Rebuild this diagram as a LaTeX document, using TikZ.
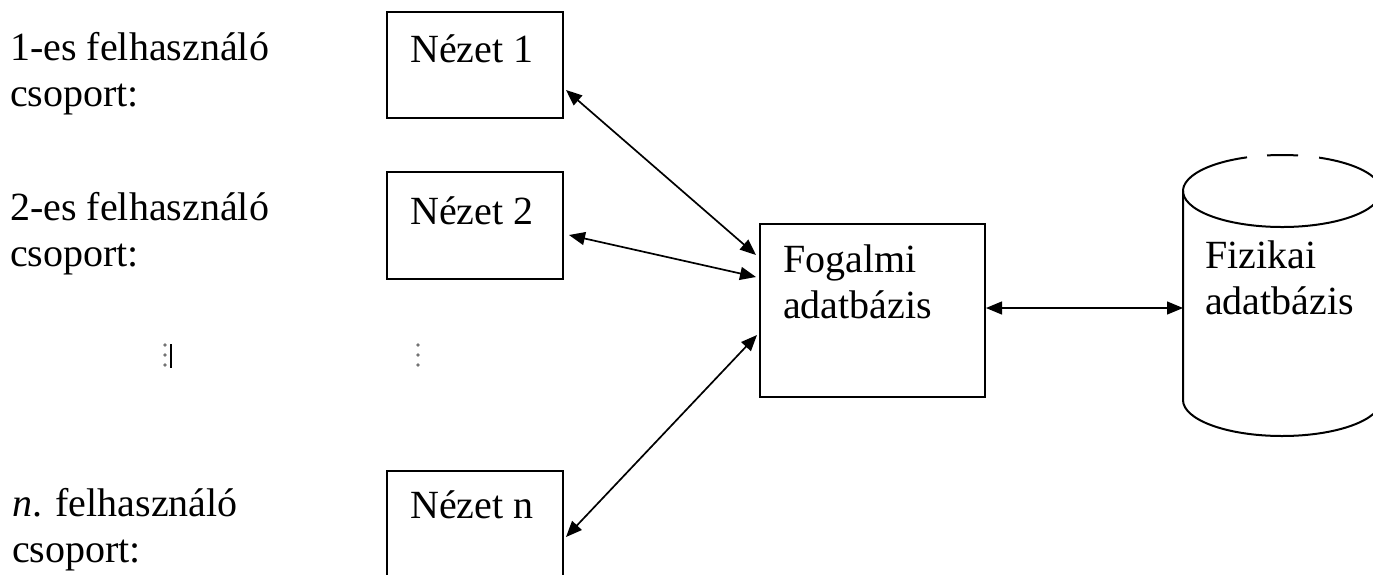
\documentclass[tikz,border=0pt]{standalone}
\usepackage{fontspec}
\setmainfont{Liberation Serif}
\usetikzlibrary{arrows.meta}
\begin{document}
\begin{tikzpicture}[x=1pt,y=1pt,
  every node/.style={font=\fontsize{40}{46}\selectfont},
  boxnode/.style={draw,line width=2pt,minimum width=176pt,minimum height=106pt,inner sep=0pt},
  lbl/.style={anchor=base west,inner sep=0pt,align=left},
  conn/.style={line width=1.7pt,{Triangle[length=16pt,width=13pt]}-{Triangle[length=16pt,width=13pt]}},
  vdot/.style={fill=black!55,draw=none}]
\useasboundingbox (0,0) rectangle (1373,-574);
\clip (0,0) rectangle (1373,-574);
% left labels (anchor at baseline of the last line)
\node[lbl] (g1) at (10,-106) {1-es felhasználó\\csoport:};
\node[lbl] (g2) at (10,-266) {2-es felhasználó\\csoport:};
\node[lbl] (gn) at (12,-562) {\textit{n}. felhasználó\\csoport:};
% view boxes
\node[boxnode] (n1) at (475,-65) {};
\node[boxnode,minimum height=107pt] (n2) at (475,-225.5) {};
\node[boxnode] (nn) at (475,-524) {};
\node[lbl] (t1) at (410,-62) {Nézet 1};
\node[lbl] (t2) at (410,-224) {Nézet 2};
\node[lbl] (tn) at (410,-518) {Nézet n};
% conceptual box
\node[draw,line width=2pt,minimum width=225pt,minimum height=173pt,inner sep=0pt] (fog) at (872.5,-310.5) {};
\node[lbl] (tf) at (783,-318) {Fogalmi\\adatbázis};
% cylinder
\draw[line width=2pt] (1183,-191) -- (1183,-400)
  arc[start angle=180,end angle=360,x radius=99,y radius=36] -- (1381,-191);
\draw[line width=2pt] (1282,-191) ++(110.7:99 and 36) arc[start angle=110.7,end angle=428,x radius=99,y radius=36];
\draw[line width=2pt] (1282,-191) ++(98.7:99 and 36) arc[start angle=98.7,end angle=80.7,x radius=99,y radius=36];
\coordinate (cyl) at (1183,-308);
\node[lbl] (tz) at (1205,-314) {Fizikai\\adatbázis};
% connectors
\draw[conn] ([shift={(2,-25)}]n1.east) -- ([shift={(-3,55.5)}]fog.west);
\draw[conn] ([shift={(5,-9.5)}]n2.east) -- ([shift={(-3,33.5)}]fog.west);
\draw[conn] ([shift={(2,-13)}]nn.east) -- ([shift={(-2,-24.5)}]fog.west);
\draw[conn,line width=1.3pt] ([yshift=2.5pt]fog.east) -- (cyl);
% vertical dots
\foreach \x in {165,418}{
  \foreach \y in {345,355,365}{
    \fill[vdot] (\x,-\y) circle (1.8pt);
  }
}
\draw[line width=1.4pt] (171,-344) -- (171,-368);
\end{tikzpicture}
\end{document}
